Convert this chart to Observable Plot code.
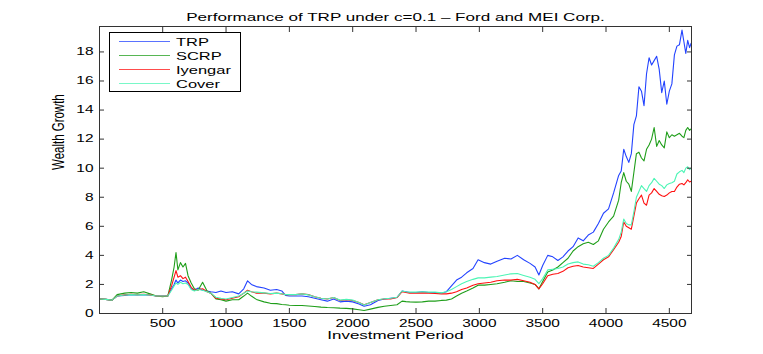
<!DOCTYPE html>
<html><head><meta charset="utf-8">
<script src="https://cdn.jsdelivr.net/npm/d3@7"></script>
<script src="https://cdn.jsdelivr.net/npm/@observablehq/plot@0.6"></script>
<style>body{margin:0;background:#fff} svg{display:block}</style>
</head><body><div id="chart"></div>
<script>
const titleText = "Performance of TRP under c=0.1 – Ford and MEI Corp.";
const xLabel = "Investment Period";
const yLabel = "Wealth Growth";
const seriesNames = ["TRP", "SCRP", "Iyengar", "Cover"];
const seriesColors = ["#2343ff", "#1f9e1a", "#ff1010", "#4cf5b5"];
const xTicks = [500, 1000, 1500, 2000, 2500, 3000, 3500, 4000, 4500];
const yTicks = [0, 2, 4, 6, 8, 10, 12, 14, 16, 18];

const period = [
1,50,100,140,200,250,300,350,400,450,
500,540,570,590,605,620,640,660,680,700,
725,750,780,815,850,880,920,960,1000,1050,
1100,1140,1170,1200,1240,1300,1350,1400,1440,1470,
1500,1550,1600,1650,1700,1750,1800,1850,1900,1950,
2000,2050,2090,2140,2200,2250,2300,2350,2390,2420,
2450,2500,2550,2600,2650,2700,2740,2780,2820,2860,
2900,2950,2990,3040,3090,3140,3200,3250,3300,3350,
3400,3440,3470,3500,3540,3580,3620,3660,3700,3740,
3780,3820,3860,3900,3940,3980,4020,4060,4100,4120,
4140,4160,4180,4200,4220,4240,4260,4280,4300,4320,
4340,4360,4380,4400,4420,4440,4460,4480,4500,4520,
4540,4560,4580,4600,4615,4630,4645,4660,4672];

const trp = [
1.0,0.97,0.92,1.2,1.25,1.3,1.28,1.3,1.27,1.2,
1.2,1.2,1.7,2.0,2.3,2.1,2.3,2.2,2.25,2.1,
1.7,1.6,1.75,1.6,1.55,1.5,1.45,1.55,1.45,1.5,
1.35,1.7,2.25,2.0,1.85,1.75,1.6,1.65,1.55,1.25,
1.2,1.2,1.2,1.15,1.05,0.95,0.85,1.0,0.8,0.85,
0.8,0.65,0.5,0.6,0.9,1.0,1.05,1.1,1.55,1.5,
1.45,1.45,1.5,1.45,1.45,1.4,1.5,1.9,2.3,2.5,
2.8,3.1,3.7,3.5,3.4,3.6,3.8,3.75,4.0,3.7,
3.45,3.2,2.65,3.3,4.0,3.9,3.65,3.9,4.3,4.6,
5.2,5.0,5.4,5.6,6.2,6.9,7.2,8.3,9.5,9.8,
11.3,10.8,10.4,11.0,13.0,13.6,15.6,15.3,14.3,16.5,
17.6,17.1,17.4,17.7,16.8,15.2,16.0,14.4,15.3,15.8,
17.8,18.4,18.5,19.5,18.7,17.9,18.8,18.3,18.6];

const scrp = [
1.0,0.97,0.92,1.3,1.4,1.45,1.4,1.5,1.35,1.2,
1.15,1.2,2.3,3.2,4.2,3.0,3.5,3.2,3.45,2.6,
2.1,1.7,1.6,2.15,1.55,1.4,1.0,0.95,0.85,0.95,
0.95,1.2,1.4,1.2,0.97,0.8,0.7,0.68,0.62,0.6,
0.57,0.55,0.55,0.52,0.48,0.44,0.41,0.4,0.37,0.35,
0.32,0.26,0.21,0.3,0.42,0.5,0.55,0.6,0.85,0.82,
0.8,0.78,0.8,0.85,0.85,0.9,0.92,1.0,1.2,1.4,
1.55,1.75,1.95,1.95,2.0,2.05,2.15,2.25,2.2,2.2,
2.1,2.0,1.7,2.2,2.85,3.0,3.2,3.5,3.8,4.3,
4.6,4.8,4.9,4.75,5.0,5.8,6.3,6.7,7.8,9.0,
9.7,9.1,8.9,8.4,9.7,11.0,11.1,10.7,10.5,11.3,
11.6,12.0,12.8,11.5,11.9,11.6,11.4,12.5,12.1,12.3,
12.2,12.3,12.4,12.2,12.1,12.6,12.8,12.6,12.7];

const iyengar = [
1.0,0.97,0.92,1.2,1.28,1.32,1.3,1.32,1.28,1.2,
1.2,1.2,1.9,2.5,2.95,2.5,2.6,2.4,2.5,2.2,
1.8,1.6,1.65,1.7,1.5,1.4,1.05,1.0,0.95,1.05,
1.15,1.4,1.6,1.5,1.4,1.4,1.35,1.4,1.35,1.3,
1.3,1.3,1.35,1.3,1.15,1.05,1.0,1.1,0.9,0.95,
0.9,0.75,0.6,0.75,0.95,1.0,1.0,1.1,1.5,1.45,
1.4,1.4,1.42,1.4,1.38,1.35,1.35,1.4,1.5,1.65,
1.75,1.95,2.05,2.1,2.15,2.25,2.3,2.3,2.35,2.25,
2.15,2.0,1.7,2.05,2.6,2.7,2.75,2.9,3.15,3.25,
3.3,3.2,3.15,3.1,3.4,3.7,3.9,4.4,4.9,5.3,
6.3,6.0,5.9,5.8,6.7,7.6,7.9,8.15,7.6,7.45,
8.15,8.3,8.6,8.4,8.2,8.1,8.05,8.15,8.3,8.4,
8.4,8.7,8.9,8.95,8.85,9.0,9.2,9.05,9.1];

const cover = [
1.0,0.97,0.92,1.2,1.27,1.3,1.28,1.3,1.27,1.2,
1.2,1.2,1.6,1.9,2.1,2.0,2.15,2.05,2.1,2.0,
1.65,1.55,1.65,1.6,1.5,1.4,1.12,1.05,1.0,1.1,
1.2,1.4,1.55,1.5,1.47,1.42,1.38,1.4,1.36,1.3,
1.3,1.3,1.35,1.28,1.15,1.05,1.0,1.1,0.92,0.97,
0.92,0.75,0.58,0.75,0.95,1.02,1.05,1.12,1.55,1.5,
1.47,1.47,1.5,1.47,1.47,1.42,1.5,1.65,1.85,2.05,
2.2,2.35,2.45,2.45,2.5,2.55,2.65,2.73,2.75,2.62,
2.5,2.35,2.05,2.4,3.0,3.05,3.1,3.2,3.4,3.5,
3.55,3.4,3.35,3.25,3.5,3.8,4.0,4.5,5.1,5.6,
6.5,6.2,6.1,6.1,7.0,8.0,8.4,8.8,8.6,8.4,
8.8,9.0,9.3,9.1,8.9,8.8,8.6,8.85,8.95,9.0,
9.1,9.6,9.75,9.85,9.7,10.0,10.1,9.9,10.0];

const seriesValues = [trp, scrp, iyengar, cover];
const rows = [];
seriesNames.forEach((name, i) => period.forEach((p, j) => rows.push({name, period: p, value: seriesValues[i][j]})));

const chart = Plot.plot({
  width: 763, height: 354,
  marginLeft: 99, marginRight: 72, marginTop: 26, marginBottom: 41,
  style: {fontFamily: "'Liberation Sans', Arial, sans-serif", fontSize: "10.5px", color: "#000", background: "#fff"},
  x: {domain: [1, 4675]},
  y: {domain: [0, 19.75]},
  color: {domain: seriesNames, range: seriesColors},
  marks: [
    Plot.line(rows, {x: "period", y: "value", z: "name", stroke: "name", strokeWidth: 1.1}),
    Plot.frame({stroke: "#333", strokeWidth: 1}),
    Plot.axisX(xTicks, {anchor: "bottom", tickSize: -5, tickPadding: 11, tickFormat: "d", label: null, stroke: "#333"}),
    Plot.axisX(xTicks, {anchor: "top", tickSize: -5, tickFormat: () => "", label: null, stroke: "#333"}),
    Plot.axisY(yTicks, {anchor: "left", tickSize: -5, tickPadding: 11, tickFormat: "d", label: null, stroke: "#333"}),
    Plot.axisY(yTicks, {anchor: "right", tickSize: -5, tickFormat: () => "", label: null, stroke: "#333"}),
    Plot.text([titleText], {text: d => d, frameAnchor: "top", dy: -14, fontSize: 11.6}),
    Plot.text([xLabel], {text: d => d, frameAnchor: "bottom", dy: 25, fontSize: 11.5}),
    Plot.text([yLabel], {text: d => d, frameAnchor: "left", dx: -41, rotate: -90, fontSize: 11.5})
  ]
});
document.getElementById("chart").appendChild(chart);

// legend (MATLAB-style box, upper left)
const svg = d3.select(chart);
const lg = svg.append("g").attr("font-family", "'Liberation Sans', Arial, sans-serif")
  .attr("font-size", 11.2).attr("text-anchor", "start");
lg.append("rect").attr("x", 109.5).attr("y", 32.5).attr("width", 131).attr("height", 59)
  .attr("fill", "#fff").attr("stroke", "#000").attr("stroke-width", 1);
seriesNames.forEach((name, i) => {
  const yy = 41.5 + i * 14;
  lg.append("line").attr("x1", 119).attr("x2", 170).attr("y1", yy).attr("y2", yy)
    .attr("stroke", seriesColors[i]).attr("stroke-width", 1).attr("stroke-opacity", 0.75);
  lg.append("text").attr("x", 176).attr("y", yy).attr("dy", "0.36em").attr("fill", "#000")
    .attr("text-anchor", "start").text(name);
});

// the reference figure is horizontally stretched: widen text accordingly
const S = 1.47;
chart.querySelectorAll("text").forEach(t => {
  if (t.textContent === "") return;
  if (t.textContent === yLabel) {
    const tr = t.getAttribute("transform") || "";
    t.setAttribute("transform", tr + " scale(1," + S + ")");
    return;
  }
  const w = t.getComputedTextLength();
  if (w > 0) { t.setAttribute("textLength", (w * S).toFixed(1)); t.setAttribute("lengthAdjust", "spacingAndGlyphs"); }
});
</script>
</body></html>
